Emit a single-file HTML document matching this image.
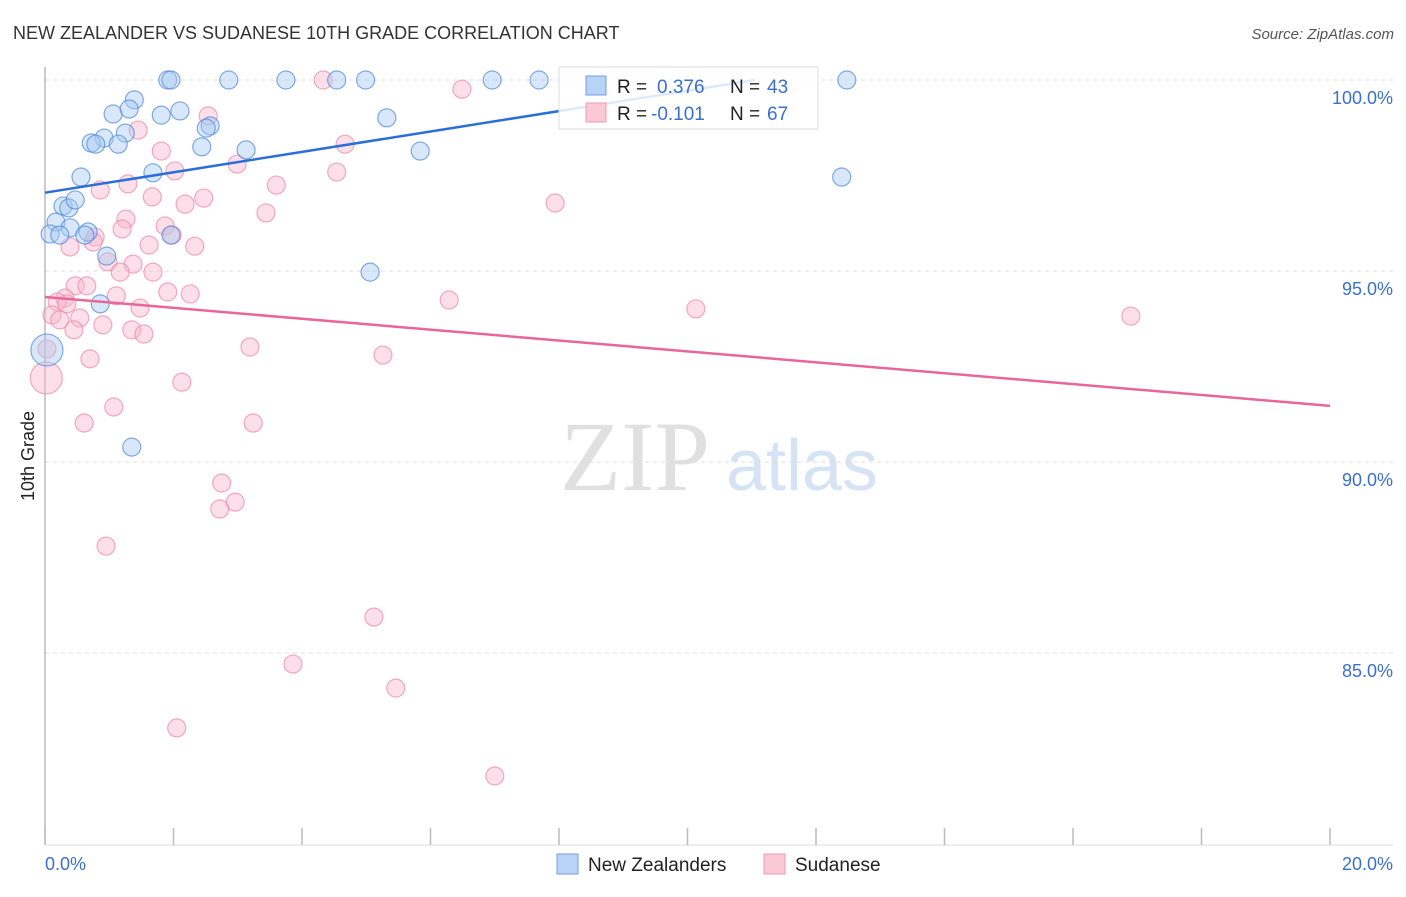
<!DOCTYPE html>
<html><head><meta charset="utf-8"><style>
body{margin:0;background:#fff;font-family:"Liberation Sans",sans-serif;}
svg text{font-family:"Liberation Sans",sans-serif;}
svg text.serif{font-family:"Liberation Serif",serif;}
</style></head><body>
<svg id="chart" width="1406" height="892" xmlns="http://www.w3.org/2000/svg">
<text x="13" y="39" font-size="18" fill="#333">NEW ZEALANDER VS SUDANESE 10TH GRADE CORRELATION CHART</text>
<text x="1394" y="39" font-size="15" fill="#555" text-anchor="end" font-style="italic">Source: ZipAtlas.com</text>
<g>
<text class="serif" x="635" y="490" font-size="100" fill="#e0e0e0" text-anchor="middle">ZIP</text>
<text x="802" y="490" font-size="72" fill="#d5e3f5" text-anchor="middle">atlas</text>
</g>
<g id="grid"></g>
<g id="axes"></g>
<g id="points"></g>
<g id="trends"></g>
<text transform="translate(34,456) rotate(-90)" font-size="18" fill="#222" text-anchor="middle">10th Grade</text>
<text x="45" y="870" font-size="18" fill="#3a6fd0">0.0%</text>
<text x="1393" y="870" font-size="18" fill="#3a6fd0" text-anchor="end">20.0%</text>
<g>
<rect x="559" y="67" width="259" height="62" fill="#fff" fill-opacity="0.85" stroke="#ddd"/>
<rect x="586" y="76" width="20" height="19" fill="#b8d3f5" stroke="#6f9fe0"/>
<rect x="586" y="103" width="20" height="19" fill="#fbc8d6" stroke="#ee9ab3"/>
<text x="617" y="93" font-size="19" fill="#222">R = </text><text x="657" y="93" font-size="19" fill="#3a6fd0">0.376</text>
<text x="730" y="93" font-size="19" fill="#222">N = </text><text x="767" y="93" font-size="19" fill="#3a6fd0">43</text>
<text x="617" y="120" font-size="19" fill="#222">R = </text><text x="651" y="120" font-size="19" fill="#3a6fd0">-0.101</text>
<text x="730" y="120" font-size="19" fill="#222">N = </text><text x="767" y="120" font-size="19" fill="#3a6fd0">67</text>
</g>
<g>
<rect x="557" y="854" width="21" height="20" fill="#b8d3f5" stroke="#6f9fe0"/>
<text x="588" y="871" font-size="19" fill="#222">New Zealanders</text>
<rect x="764" y="854" width="21" height="20" fill="#fbc8d6" stroke="#ee9ab3"/>
<text x="795" y="871" font-size="19" fill="#222">Sudanese</text>
</g>
</svg>
<script>
const yTicks=[100,95,90,85];
const yTickLabels=["100.0%","95.0%","90.0%","85.0%"];
const xTicks=[0,2,4,6,8,10,12,14,16,18,20];
const nzX=[1.91,1.96,2.86,3.75,4.54,4.99,6.96,7.69,12.48,1.39,1.06,1.31,2.10,1.81,1.25,0.92,0.72,0.79,1.14,2.57,2.51,2.44,3.13,5.32,5.84,1.68,0.56,12.40,0.28,0.37,0.47,0.17,0.39,0.08,0.23,0.67,0.62,1.96,0.96,5.06,0.86,1.35,0.03];
const nzY=[100,100,100,100,100,100,100,100,100,99.48,99.11,99.24,99.19,99.08,98.61,98.48,98.35,98.32,98.32,98.80,98.74,98.25,98.17,99.01,98.14,97.57,97.46,97.46,96.70,96.65,96.86,96.28,96.13,95.97,95.94,96.02,95.94,95.94,95.39,94.97,94.14,90.39,92.93];
const nzR=[9,9,9,9,9,9,9,9,9,9,9,9,9,9,9,9,9,9,9,9,9,9,9,9,9,9,9,9,9,9,9,9,9,9,9,9,9,9,9,9,9,9,16];
const sdX=[4.33,6.49,2.54,1.45,4.67,1.81,2.02,2.99,4.54,1.29,3.60,0.86,1.67,2.47,2.18,3.44,7.94,1.26,1.20,1.87,1.98,0.78,0.75,0.39,1.62,2.33,0.98,1.37,1.17,1.68,0.47,0.65,0.31,0.19,0.34,1.11,1.91,2.26,1.48,6.29,10.13,16.90,0.11,0.54,0.23,0.45,0.90,1.35,1.54,3.19,5.26,0.70,2.13,0.03,0.02,1.07,0.61,3.24,2.75,2.96,2.72,0.95,5.12,3.86,5.46,2.05,7.00];
const sdY=[100,99.76,99.06,98.69,98.32,98.14,97.62,97.80,97.59,97.28,97.25,97.12,96.94,96.91,96.75,96.52,96.78,96.36,96.10,96.18,95.94,95.89,95.76,95.63,95.68,95.65,95.24,95.18,94.97,94.97,94.61,94.61,94.29,94.19,94.14,94.35,94.45,94.40,94.03,94.24,94.01,93.82,93.85,93.77,93.72,93.46,93.59,93.46,93.35,93.01,92.80,92.70,92.09,92.96,92.20,91.44,91.02,91.02,89.45,88.95,88.77,87.80,85.94,84.71,84.08,83.04,81.78];
const nzTrend=[[0,97.05],[11.05,100]];
const sdTrend=[[0,94.32],[20,91.47]];
const NS="http://www.w3.org/2000/svg";
const xs=v=>45+v/20*1285;
const ys=v=>80+(100-v)*38.2;
function mk(tag,attrs,parent){const e=document.createElementNS(NS,tag);for(const k in attrs)e.setAttribute(k,attrs[k]);parent.appendChild(e);return e;}
const grid=document.getElementById('grid'),axes=document.getElementById('axes'),pts=document.getElementById('points'),tr=document.getElementById('trends');
yTicks.forEach((t,i)=>{
 const l=mk('line',{x1:45,x2:1393,y1:ys(t),y2:ys(t),stroke:'#ddd','stroke-dasharray':'4,4'},grid);
 
 
 const tx=mk('text',{x:1393,y:ys(t)+24,'font-size':18,fill:'#3a6fd0','text-anchor':'end'},grid);
 tx.textContent=yTickLabels[i];
 
 
});
const ya=mk('line',{x1:45,x2:45,y1:67,y2:845,stroke:'#bbb','stroke-width':1.5},axes);


const xa=mk('line',{x1:45,x2:1393,y1:845,y2:845,stroke:'#ddd'},axes);


xTicks.forEach(t=>{
 const l=mk('line',{x1:xs(t),x2:xs(t),y1:828,y2:845,stroke:'#bbb','stroke-width':1.5},axes);
 
 
});
function drawPts(X,Y,R,fill,stroke,name){
 X.forEach((x,i)=>{
  const c=mk('circle',{cx:xs(x),cy:ys(Y[i]),r:R[i],fill:fill,'fill-opacity':0.45,stroke:stroke,'stroke-opacity':0.7,'stroke-width':1.2},pts);
  
  
 });
}
const sdR=sdX.map((v,i)=>i===54?16:9);
drawPts(sdX,sdY,sdR,'#f9b9cc','#ee88a8','sudanese-point');
drawPts(nzX,nzY,nzR,'#a9c9f2','#4f88dc','new-zealander-point');
const t1=mk('line',{x1:xs(nzTrend[0][0]),y1:ys(nzTrend[0][1]),x2:xs(nzTrend[1][0]),y2:ys(nzTrend[1][1]),stroke:'#2a6fd8','stroke-width':2.5},tr);


const t2=mk('line',{x1:xs(sdTrend[0][0]),y1:ys(sdTrend[0][1]),x2:xs(sdTrend[1][0]),y2:ys(sdTrend[1][1]),stroke:'#e8679a','stroke-width':2.5},tr);


</script>
</body></html>
